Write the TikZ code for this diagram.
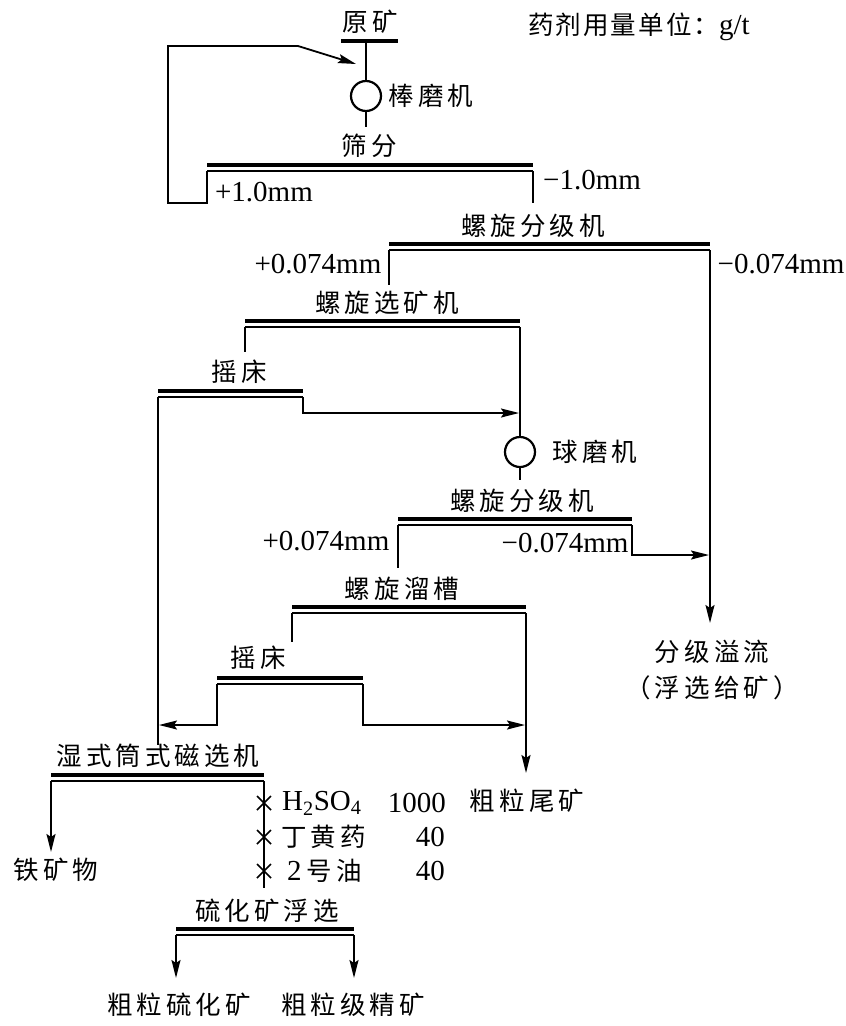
\documentclass[tikz,border=0pt]{standalone}
\usepackage{fontspec}
\setmainfont{Liberation Serif}
\newfontfamily\cjk[LetterSpace=16]{Noto Sans CJK SC}
\newfontfamily\cjkn[LetterSpace=8]{Noto Sans CJK SC}
\usetikzlibrary{arrows.meta,calc}
\tikzset{
  ln/.style={line width=1.8pt},
  arr/.style={ln, -{Stealth[length=18pt,width=9pt,inset=3pt]}},
  cn/.style={font=\cjk\fontsize{25.5}{30}\selectfont, inner sep=0pt},
  lt/.style={font=\fontsize{29}{32}\selectfont, inner sep=0pt},
  barT/.style={line width=3.2pt},
  barB/.style={line width=1.5pt},
  mill/.style={circle, draw, line width=2.2pt, minimum size=30pt, inner sep=0pt},
  xmark/.style={line width=1.5pt},
}
\newcommand\pbar[4]{%
  \coordinate (#1L) at (#2,#4+6);
  \coordinate (#1R) at (#3,#4+6);
  \draw[barT] (#2,#4) -- (#3,#4);
  \draw[barB] (#2,#4+6) -- (#3,#4+6);}
\newcommand\xm[1]{\draw[xmark] ($(#1)+(-7,-7)$) -- ($(#1)+(7,7)$) ($(#1)+(-7,7)$) -- ($(#1)+(7,-7)$);}
\begin{document}
\begin{tikzpicture}[x=1pt,y=-1pt]
\useasboundingbox (0,0) rectangle (846,1026);
\fill[white] (0,0) rectangle (846,1026);

% top
\node[cn] (yk) at (370,22) {原矿};
\draw[barT] (341,41) -- (398,41);
\coordinate (yk1) at (366,41);
\node[mill] (rm) at (366,96) {};
\node[cn] (rmt) at (431,96) {棒磨机};
\coordinate (rm2) at (366,127);
\draw[ln] (yk1) -- (rm.north);
\draw[ln] (rm.south) -- (rm2);
\node[lt] (unit) at (639,27) {{\cjkn\fontsize{25.5}{30}\selectfont 药剂用量单位：}g/t};

% screen
\node[cn] (sf) at (369,146) {筛分};
\pbar{sc}{207}{533}{165}
\coordinate (sc1) at (207,203);
\coordinate (sc2) at (168,203);
\coordinate (sc3) at (168,46);
\coordinate (sc4) at (298,46);
\coordinate (sc5) at (356,64);
\draw[arr] (scL) -- (sc1) -- (sc2) -- (sc3) -- (sc4) -- (sc5);
\node[lt] (p1) at (264,192) {+1.0mm};
\coordinate (sc6) at (533,203);
\draw[ln] (scR) -- (sc6);
\node[lt] (m1) at (592,180) {−1.0mm};

% spiral classifier 1
\node[cn] (lx1) at (533,226) {螺旋分级机};
\pbar{c1}{389}{710}{244}
\coordinate (c1a) at (389,285);
\draw[ln] (c1L) -- (c1a);
\node[lt] (p2) at (318,264) {+0.074mm};
\node[lt] (m2) at (781,264) {−0.074mm};
\coordinate (ov) at (710,623);
\draw[arr] (c1R) -- (ov);
\node[cn] (ovt) at (712,652) {分级溢流};
\node[cn] (ovt2) at (712,688) {（浮选给矿）};

% spiral concentrator
\node[cn] (sp) at (387,303) {螺旋选矿机};
\pbar{sp}{245}{520}{321}
\coordinate (spa) at (245,352);
\draw[ln] (spL) -- (spa);

% shaking table 1
\node[cn] (st1) at (239,372) {摇床};
\pbar{ta}{158}{303}{391}
\coordinate (ta1) at (303,413);
\coordinate (ta2) at (519,413);
\draw[arr] (taR) -- (ta1) -- (ta2);
\coordinate (ta3) at (158,745);
\draw[ln] (taL) -- (ta3);

% ball mill
\node[mill] (bm) at (520,452) {};
\node[cn] (bmt) at (595,452) {球磨机};
\draw[ln] (spR) -- (bm.north);
\coordinate (bm2) at (520,480);
\draw[ln] (bm.south) -- (bm2);

% spiral classifier 2
\node[cn] (lx2) at (522,501) {螺旋分级机};
\pbar{c2}{398}{632}{519}
\coordinate (c2a) at (398,568);
\draw[ln] (c2L) -- (c2a);
\node[lt] (p3) at (326,541) {+0.074mm};
\node[lt] (m3) at (565,543) {−0.074mm};
\coordinate (c2b) at (632,555);
\coordinate (c2c) at (709,555);
\draw[arr] (c2R) -- (c2b) -- (c2c);

% spiral chute
\node[cn] (lc) at (402,589) {螺旋溜槽};
\pbar{lc}{292}{526}{607}
\coordinate (lca) at (292,642);
\draw[ln] (lcL) -- (lca);
\coordinate (tail) at (526,773);
\draw[arr] (lcR) -- (tail);
\node[cn] (tailt) at (527,801) {粗粒尾矿};

% shaking table 2
\node[cn] (st2) at (258,658) {摇床};
\pbar{tb}{217}{363}{678}
\coordinate (tb1) at (217,725);
\coordinate (tb2) at (159,725);
\draw[arr] (tbL) -- (tb1) -- (tb2);
\coordinate (tb3) at (363,725);
\coordinate (tb4) at (525,725);
\draw[arr] (tbR) -- (tb3) -- (tb4);

% magnetic separator
\node[cn] (ms) at (158,756) {湿式筒式磁选机};
\pbar{ms}{51}{264}{775}
\coordinate (fe) at (51,852);
\draw[arr] (msL) -- (fe);
\node[cn] (fet) at (56,870) {铁矿物};
\coordinate (ms2) at (264,888);
\draw[ln] (msR) -- (ms2);
\coordinate (x1) at (264,803);
\coordinate (x2) at (264,837);
\coordinate (x3) at (264,871);
\xm{x1}\xm{x2}\xm{x3}
\node[lt, anchor=west] (r1) at (282,803) {H\textsubscript{2}SO\textsubscript{4}};
\node[lt, anchor=east] (r1v) at (446,803) {1000};
\node[cn, anchor=west] (r2) at (281,837) {丁黄药};
\node[lt, anchor=east] (r2v) at (445,837) {40};
\node[anchor=west, inner sep=0pt] (r3) at (287,871) {\fontsize{29}{32}\selectfont 2\,{\cjk\fontsize{25.5}{30}\selectfont 号油}};
\node[lt, anchor=east] (r3v) at (445,871) {40};

% sulfide flotation
\node[cn] (fl) at (267,911) {硫化矿浮选};
\pbar{fl}{176}{354}{929}
\coordinate (fla) at (176,978);
\coordinate (flb) at (354,978);
\draw[arr] (flL) -- (fla);
\draw[arr] (flR) -- (flb);
\node[cn] (fat) at (179,1005) {粗粒硫化矿};
\node[cn] (fbt) at (353,1005) {粗粒级精矿};
\end{tikzpicture}
\end{document}
